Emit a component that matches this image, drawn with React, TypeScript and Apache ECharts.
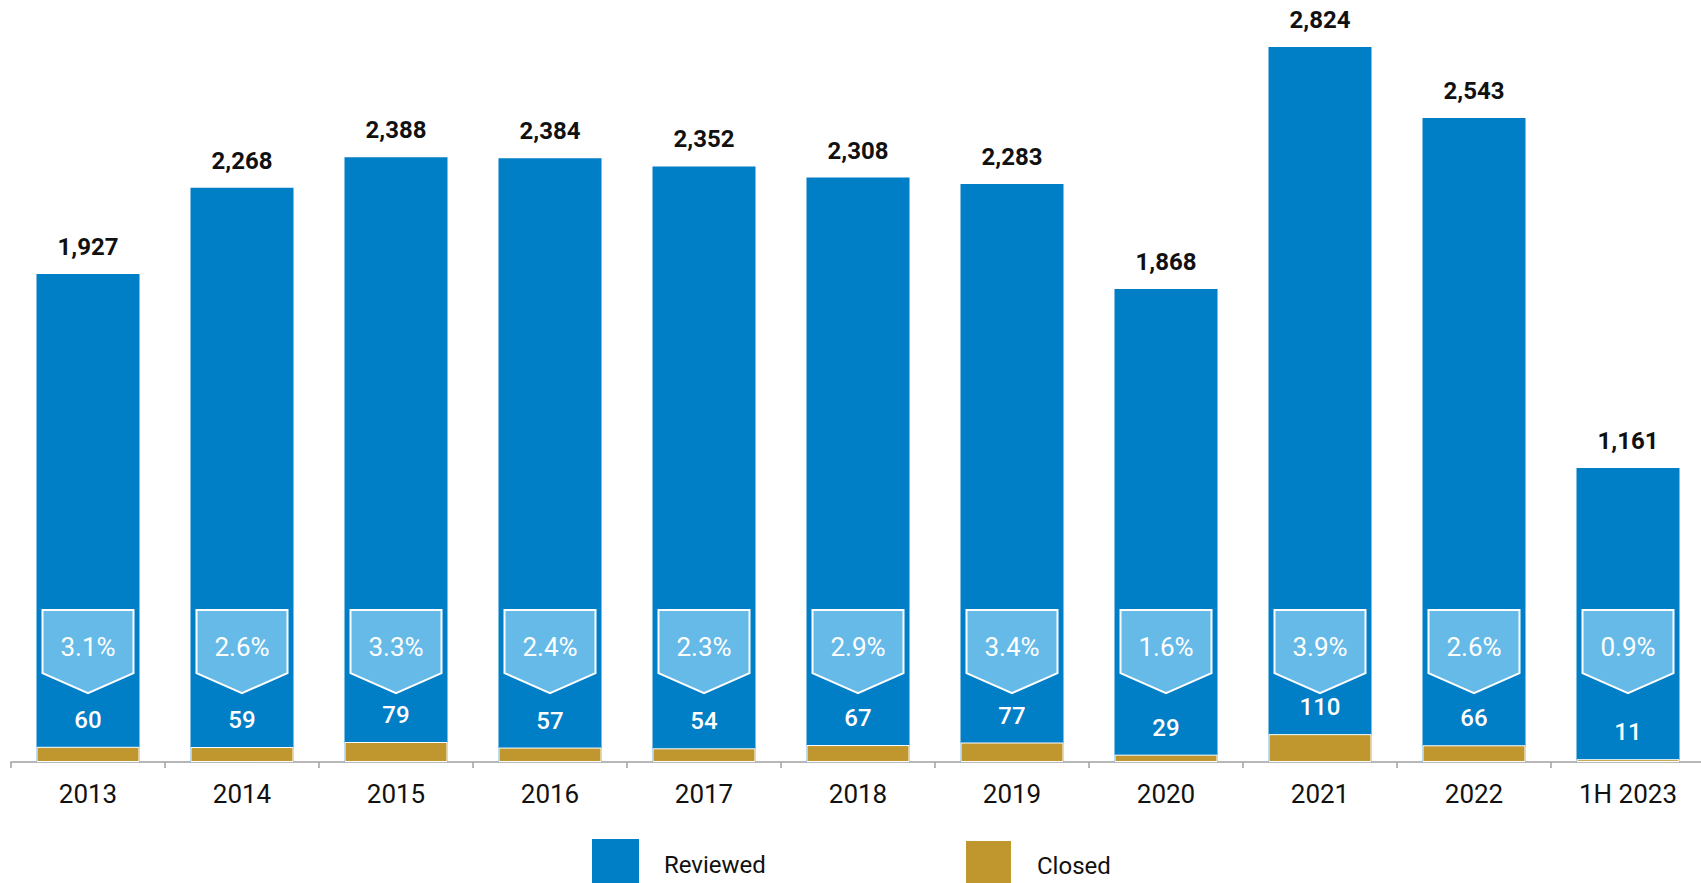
import React, { useEffect, useRef } from "react";
import * as echarts from "echarts";

const categories = ["2013", "2014", "2015", "2016", "2017", "2018", "2019", "2020", "2021", "2022", "1H 2023"];
const reviewed = [1927, 2268, 2388, 2384, 2352, 2308, 2283, 1868, 2824, 2543, 1161];
const closed = [60, 59, 79, 57, 54, 67, 77, 29, 110, 66, 11];
const closedShare = ["3.1%", "2.6%", "3.3%", "2.4%", "2.3%", "2.9%", "3.4%", "1.6%", "3.9%", "2.6%", "0.9%"];

const BLUE = "#007EC6";
const GOLD = "#BF972E";
const BADGE = "#66BAE8";
const FONT = "Roboto, 'Liberation Sans', sans-serif";
const BADGE_TOP_VALUE = 600;

export default function App() {
  const ref = useRef<HTMLDivElement>(null);
  useEffect(() => {
    if (!ref.current) return;
    const chart = echarts.init(ref.current, undefined, { renderer: "svg" });
    const legendBase = {
      top: 839,
      padding: 0,
      itemWidth: 47,
      itemHeight: 52,
      icon: "rect",
      selectedMode: false,
      textStyle: { fontSize: 24, color: "#111", fontFamily: FONT, padding: [0, 0, 0, 20] },
    };
    const option: any = {
      animation: false,
      backgroundColor: "#ffffff",
      textStyle: { fontFamily: FONT },
      grid: { left: 11, width: 1694, top: 2.4, height: 759.6, containLabel: false },
      legend: [
        { ...legendBase, data: ["Reviewed"], left: 592 },
        { ...legendBase, data: ["Closed"], left: 964 },
      ],
      xAxis: {
        type: "category",
        data: categories,
        axisLine: { show: true, lineStyle: { color: "#a0a0a0", width: 1.5 } },
        axisTick: { show: true, length: 6, lineStyle: { color: "#a0a0a0", width: 1.5 } },
        axisLabel: { fontSize: 26, color: "#111", margin: 19, fontFamily: FONT },
      },
      yAxis: {
        type: "value",
        min: 0,
        max: 3000,
        show: false,
        splitLine: { show: false },
      },
      series: [
        {
          name: "Reviewed",
          type: "bar",
          data: reviewed,
          barWidth: 103,
          barGap: "-100%",
          itemStyle: { color: BLUE },
          label: {
            show: true,
            position: "top",
            distance: 15,
            fontSize: 24,
            fontWeight: "bold",
            color: "#111",
            fontFamily: FONT,
            formatter: (p: any) => Number(p.value).toLocaleString("en-US"),
          },
        },
        {
          name: "Closed",
          type: "bar",
          data: closed,
          barWidth: 103,
          barGap: "-100%",
          itemStyle: { color: GOLD, borderColor: "#ffffff", borderWidth: 1 },
          label: {
            show: true,
            position: "top",
            distance: 15,
            fontSize: 24,
            fontWeight: 500,
            color: "#ffffff",
            fontFamily: FONT,
          },
        },
        {
          name: "share",
          type: "custom",
          data: closedShare.map((s, i) => [i, parseFloat(s)]),
          encode: { x: 0, y: 1 },
          clip: false,
          z: 5,
          renderItem: (params: any, api: any) => {
            const pt = api.coord([api.value(0), BADGE_TOP_VALUE]);
            const hw = 45.5;
            return {
              type: "group",
              x: pt[0],
              y: pt[1],
              children: [
                {
                  type: "polygon",
                  shape: { points: [[-hw, 0], [hw, 0], [hw, 63], [0, 83], [-hw, 63]] },
                  style: { fill: BADGE, stroke: "#ffffff", lineWidth: 2 },
                },
                {
                  type: "text",
                  x: 0,
                  y: 37,
                  style: {
                    text: closedShare[params.dataIndex],
                    fill: "#ffffff",
                    fontSize: 26,
                    fontFamily: FONT,
                    align: "center",
                    verticalAlign: "middle",
                  },
                },
              ],
            };
          },
        },
      ],
    };
    chart.setOption(option);
    return () => chart.dispose();
  }, []);
  return (
    <div
      style={{ position: "fixed", left: 0, top: 0, width: 1701, height: 883, overflow: "hidden", background: "#fff" }}
    >
      <div ref={ref} style={{ width: 1712, height: 883 }} />
    </div>
  );
}
